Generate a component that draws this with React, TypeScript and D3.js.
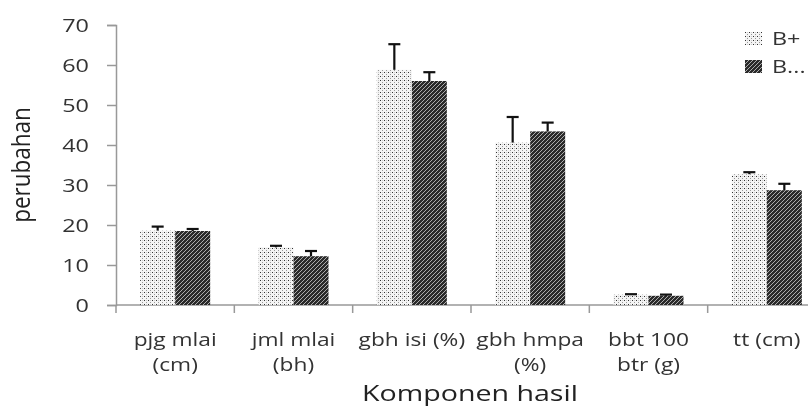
import { useEffect, useRef } from 'react'
import * as d3 from 'd3'

const categories = [
  ['pjg mlai', '(cm)'],
  ['jml mlai', '(bh)'],
  ['gbh isi (%)'],
  ['gbh hmpa', '(%)'],
  ['bbt 100', 'btr (g)'],
  ['tt (cm)']
]
const seriesNames = ['B+', 'B...']
const valuesBPlus = [18.6, 14.4, 58.8, 40.6, 2.6, 32.7]
const errBPlus = [19.6, 14.8, 65.2, 47.0, 2.7, 33.2]
const valuesBMinus = [18.5, 12.2, 56.0, 43.4, 2.3, 28.7]
const errBMinus = [19.0, 13.5, 58.2, 45.6, 2.6, 30.3]
const yTicks = [0, 10, 20, 30, 40, 50, 60, 70]

const SX = 1.3 // the source picture is stretched sideways

export default function App() {
  const svgRef = useRef<SVGSVGElement>(null)

  useEffect(() => {
    const width = 808
    const height = 407
    const svg = d3.select(svgRef.current)
      .attr('width', width)
      .attr('height', height)
      .style('display', 'block')
      .style('font-family', '"Open Sans", "DejaVu Sans", sans-serif')

    svg.selectAll('*').remove()

    // patterns
    const defs = svg.append('defs')
    const dots = defs.append('pattern')
      .attr('id', 'dots')
      .attr('patternUnits', 'userSpaceOnUse')
      .attr('width', 4).attr('height', 4)
    dots.append('rect').attr('width', 4).attr('height', 4).attr('fill', '#f4f4f4')
    dots.append('rect').attr('x', 0).attr('y', 0).attr('width', 1).attr('height', 1).attr('fill', '#333')
    dots.append('rect').attr('x', 2).attr('y', 2).attr('width', 1).attr('height', 1).attr('fill', '#999')
    dots.append('rect').attr('x', 2).attr('y', 0).attr('width', 1).attr('height', 1).attr('fill', '#ccc')

    const hatch = defs.append('pattern')
      .attr('id', 'hatch')
      .attr('patternUnits', 'userSpaceOnUse')
      .attr('width', 4).attr('height', 4)
    hatch.append('rect').attr('width', 4).attr('height', 4).attr('fill', '#2a2a2a')
    hatch.append('path')
      .attr('d', 'M-1,1 l2,-2 M0,4 l4,-4 M3,5 l2,-2')
      .attr('stroke', '#bbb')
      .attr('stroke-width', 0.9)

    const x = d3.scaleBand<number>()
      .domain(d3.range(categories.length))
      .range([116, 826])

    const y = d3.scaleLinear()
      .domain([0, 70])
      .range([305, 25])

    const barW = 35
    const g = svg.append('g')

    const label = (px: number, py: number, txt: string, size: number, anchor: string) =>
      g.append('text')
        .attr('transform', `translate(${px},${py}) scale(${SX},1)`)
        .attr('text-anchor', anchor)
        .attr('fill', '#333')
        .attr('font-size', size)
        .text(txt)

    // Y axis
    const yAxis = g.append('g')
      .attr('transform', 'translate(116,0)')
      .call(d3.axisLeft(y).tickValues(yTicks).tickSize(9).tickFormat(() => ''))
    yAxis.select('.domain').attr('stroke', '#999').attr('stroke-width', 1.5)
    yAxis.selectAll('.tick line').attr('stroke', '#999').attr('stroke-width', 1.5)
    yTicks.forEach(t => label(89, y(t) + 6.5, String(t), 18, 'end'))

    // X axis
    const xAxis = g.append('g').attr('transform', `translate(0,${y(0)})`)
    xAxis.append('line')
      .attr('x1', 116).attr('x2', 826)
      .attr('stroke', '#999').attr('stroke-width', 1.5)
    xAxis.selectAll('.tk')
      .data(d3.range(categories.length + 1))
      .join('line')
      .attr('class', 'tk')
      .attr('x1', d => (d < categories.length ? x(d)! : 826))
      .attr('x2', d => (d < categories.length ? x(d)! : 826))
      .attr('y1', 0).attr('y2', 8)
      .attr('stroke', '#999').attr('stroke-width', 1.5)

    // category labels
    categories.forEach((lines, i) => {
      const cx = x(i)! + x.bandwidth() / 2
      lines.forEach((ln, j) => label(cx, 346 + j * 25, ln, 17.5, 'middle'))
    })

    const series = [
      { vals: valuesBPlus, errs: errBPlus, fill: 'url(#dots)', off: -barW },
      { vals: valuesBMinus, errs: errBMinus, fill: 'url(#hatch)', off: 0 }
    ]

    series.forEach(s => {
      g.append('g').selectAll('rect')
        .data(s.vals)
        .join('rect')
        .attr('x', (d, i) => x(i)! + x.bandwidth() / 2 + s.off)
        .attr('y', d => y(d))
        .attr('width', barW)
        .attr('height', d => y(0) - y(d))
        .attr('fill', s.fill)

      const eb = g.append('g')
      s.errs.forEach((e, i) => {
        const cx = x(i)! + x.bandwidth() / 2 + s.off + barW / 2
        eb.append('line')
          .attr('x1', cx).attr('x2', cx)
          .attr('y1', y(s.vals[i])).attr('y2', y(e))
          .attr('stroke', '#111').attr('stroke-width', 2.2)
        eb.append('line')
          .attr('x1', cx - 6).attr('x2', cx + 6)
          .attr('y1', y(e)).attr('y2', y(e))
          .attr('stroke', '#111').attr('stroke-width', 2.2)
      })
    })

    // Axis titles
    g.append('text')
      .attr('transform', 'translate(30,165) rotate(-90) scale(1,1.1)')
      .attr('text-anchor', 'middle')
      .attr('fill', '#222')
      .attr('font-size', 22.5)
      .text('perubahan')

    g.append('text')
      .attr('transform', `translate(470,401) scale(${SX},1)`)
      .attr('text-anchor', 'middle')
      .attr('fill', '#222')
      .attr('font-size', 22)
      .text('Komponen hasil')

    // Legend
    const lg = g.append('g').attr('transform', 'translate(745,32)')
    seriesNames.forEach((name, i) => {
      lg.append('rect')
        .attr('x', 0).attr('y', i * 28)
        .attr('width', 17).attr('height', 13)
        .attr('fill', i === 0 ? 'url(#dots)' : 'url(#hatch)')
      lg.append('text')
        .attr('transform', `translate(27,${i * 28 + 13}) scale(${SX},1)`)
        .attr('fill', '#333')
        .attr('font-size', 18)
        .text(name)
    })
  }, [])

  return (
    <div style={{ position: 'fixed', top: 0, left: 0, width: 808, height: 407, overflow: 'hidden' }}>
      <svg ref={svgRef}></svg>
    </div>
  )
}
